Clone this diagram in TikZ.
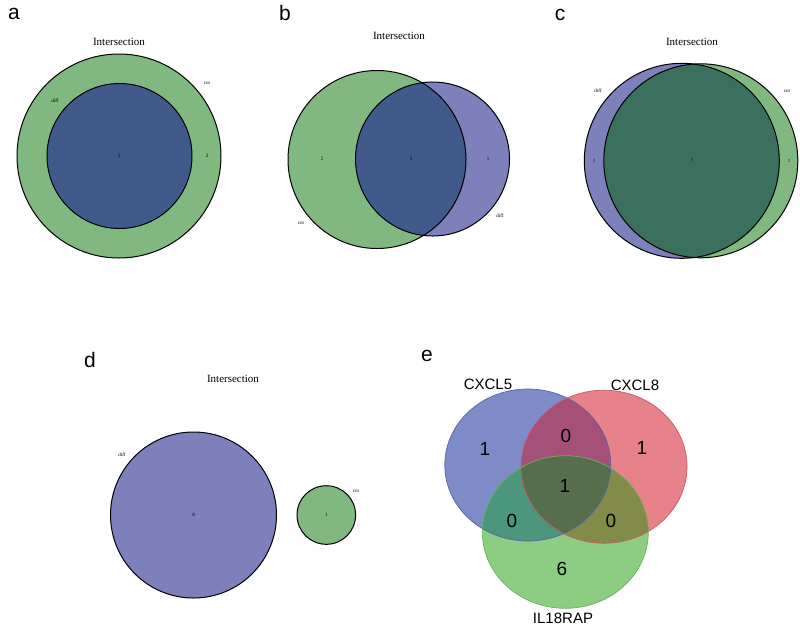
\documentclass[tikz,border=0pt]{standalone}
\usepackage{fontspec}
\setmainfont{Liberation Serif}
\newfontfamily\sansf{Liberation Sans}
\definecolor{vgreen}{HTML}{80B880}
\definecolor{vpurple}{HTML}{7E80BC}
\definecolor{vdblue}{HTML}{3F5A8B}
\definecolor{vteal}{HTML}{3C705E}
\definecolor{eblue}{HTML}{7D8CC8}
\definecolor{ered}{HTML}{E8828A}
\definecolor{egreen}{HTML}{8CCD82}
\definecolor{ebr}{HTML}{A45078}
\definecolor{ebg}{HTML}{4B967D}
\definecolor{erg}{HTML}{828C48}
\definecolor{eall}{HTML}{566E4C}
\definecolor{eblueline}{HTML}{5565A5}
\definecolor{eredline}{HTML}{C85A68}
\definecolor{egreenline}{HTML}{6AB062}
\tikzset{
  panel/.style={font=\sansf\fontsize{21}{21}\selectfont, inner sep=0pt},
  vtitle/.style={font=\fontsize{11}{11}\selectfont, inner sep=0pt},
  tiny/.style={font=\fontsize{5}{5}\selectfont, inner sep=0pt},
  ring/.style={draw=black, line width=1pt},
  eline/.style={line width=0.7pt},
  glabel/.style={font=\sansf\fontsize{15}{15}\selectfont, inner sep=0pt},
  gnum/.style={font=\sansf\fontsize{19}{19}\selectfont, inner sep=0pt}
}
\begin{document}
\begin{tikzpicture}[x=1pt,y=-1pt]
\useasboundingbox (0,0) rectangle (800,625);
\fill[white] (0,0) rectangle (800,625);

% ---------- panel a
\node[panel] (la) at (14,14) {a};
\node[vtitle] (ta) at (119,42) {Intersection};
\fill[vgreen] (119,156) circle[radius=102pt];
\fill[vdblue] (119.5,156) circle[radius=72.5pt];
\draw[ring] (119,156) circle[radius=102pt];
\draw[ring] (119.5,156) circle[radius=72.5pt];
\node[tiny] (a5) at (119,156) {5};
\node[tiny] (a2) at (207,156) {2};
\node[tiny] (acor) at (207,83) {cor};
\node[tiny] (adiff) at (55,101) {diff};

% ---------- panel b
\node[panel] (lb) at (285,13) {b};
\node[vtitle] (tb) at (399,36) {Intersection};
\fill[vgreen] (377,159.5) circle[radius=89pt];
\fill[vpurple] (432.5,159) circle[radius=77pt];
\begin{scope}
  \clip (377,159.5) circle[radius=89pt];
  \fill[vdblue] (432.5,159) circle[radius=77pt];
\end{scope}
\draw[ring] (377,159.5) circle[radius=89pt];
\draw[ring] (432.5,159) circle[radius=77pt];
\node[tiny] (b2) at (322,159) {2};
\node[tiny] (b3) at (411,159) {3};
\node[tiny] (b1) at (488,159) {1};
\node[tiny] (bcor) at (301,223) {cor};
\node[tiny] (bdiff) at (500,216) {diff};

% ---------- panel c
\node[panel] (lc) at (560,15) {c};
\node[vtitle] (tc) at (692,42) {Intersection};
\fill[vpurple] (681.8,160.8) circle[radius=97.5pt];
\fill[vgreen] (700.8,160.8) circle[radius=97pt];
\begin{scope}
  \clip (681.8,160.8) circle[radius=97.5pt];
  \fill[vteal] (700.8,160.8) circle[radius=97pt];
\end{scope}
\draw[ring] (681.8,160.8) circle[radius=97.5pt];
\draw[ring] (700.8,160.8) circle[radius=97pt];
\node[tiny] (c1a) at (594,161) {1};
\node[tiny] (c7) at (692,161) {7};
\node[tiny] (c1b) at (789,161) {1};
\node[tiny] (cdiff) at (598,91) {diff};
\node[tiny] (ccor) at (787,91) {cor};

% ---------- panel d
\node[panel] (ld) at (90,360) {d};
\node[vtitle] (td) at (233,379) {Intersection};
\fill[vpurple] (193.5,515) circle[radius=83pt];
\draw[ring] (193.5,515) circle[radius=83pt];
\fill[vgreen] (326.3,515) circle[radius=29.3pt];
\draw[ring] (326.3,515) circle[radius=29.3pt];
\node[tiny] (d8) at (193.5,515) {8};
\node[tiny] (d1) at (326.3,515) {1};
\node[tiny] (ddiff) at (122,455) {diff};
\node[tiny] (dcor) at (356,491) {cor};

% ---------- panel e
\node[panel] (le) at (427,356) {e};
\def\eA{(527.8,465) ellipse[x radius=83pt, y radius=76pt]}
\def\eB{(604,466.7) ellipse[x radius=83pt, y radius=76.5pt]}
\def\eC{(565.3,532) ellipse[x radius=83pt, y radius=76.3pt]}
\fill[eblue] \eA;
\fill[ered] \eB;
\fill[egreen] \eC;
\begin{scope}
  \clip \eA;
  \fill[ebr] \eB;
  \fill[ebg] \eC;
  \clip \eB;
  \fill[eall] \eC;
\end{scope}
\begin{scope}
  \clip \eB;
  \clip \eC;
  \fill[erg] (400,290) rectangle (800,625);
  \clip \eA;
  \fill[eall] (400,290) rectangle (800,625);
\end{scope}
\draw[eblueline, eline] \eA;
\draw[eredline, eline] \eB;
\draw[egreenline, eline] \eC;
\node[glabel] (n5) at (488,384) {CXCL5};
\node[glabel] (n8) at (635,385) {CXCL8};
\node[glabel] (n18) at (563,618) {IL18RAP};
\node[gnum] (e1) at (485,449) {1};
\node[gnum] (e2) at (566,436) {0};
\node[gnum] (e3) at (642,448) {1};
\node[gnum] (e4) at (565,486) {1};
\node[gnum] (e5) at (512,521) {0};
\node[gnum] (e6) at (611,521) {0};
\node[gnum] (e7) at (562,569) {6};
\end{tikzpicture}
\end{document}
